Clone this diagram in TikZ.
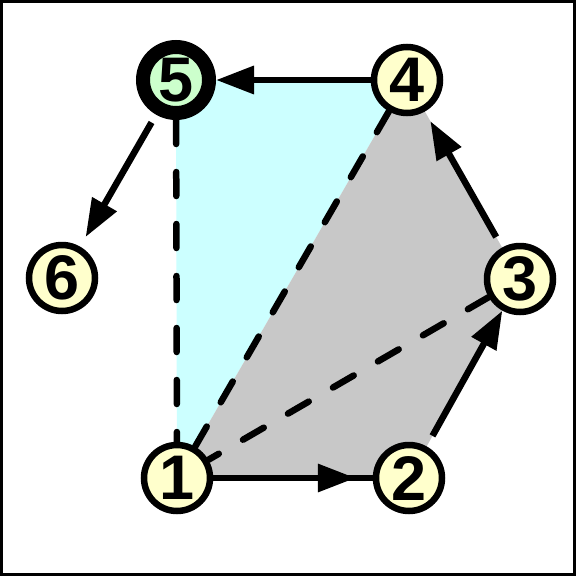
\documentclass[tikz,border=0pt]{standalone}
\usepackage{fontspec}
\setmainfont{Liberation Sans}
\usetikzlibrary{arrows.meta,backgrounds}
\definecolor{cyanfill}{HTML}{CCFFFF}
\definecolor{grayfill}{HTML}{C8C8C8}
\definecolor{nodeyellow}{HTML}{FFFFCC}
\definecolor{nodegreen}{HTML}{CCFFCC}
\tikzset{
  vert/.style={circle, draw=black, line width=6.5pt, fill=nodeyellow, minimum size=66pt, inner sep=0pt,
    font=\fontsize{63}{63}\selectfont\bfseries},
  vertroot/.style={vert, line width=14pt, fill=nodegreen},
  edge/.style={line width=6.5pt, draw=black},
  arr/.style={edge, -{Triangle[length=38pt,width=27pt]}},
  dashedge/.style={edge, line cap=round, dash pattern=on 24pt off 28pt},
}
\begin{document}
\begin{tikzpicture}[x=1pt,y=-1pt]
\useasboundingbox (0,0) rectangle (576,576);
% nodes
\node[vert] (n1) at (177,478) {1};
\node[vert] (n2) at (409,478) {2};
\node[vert] (n3) at (520,279) {3};
\node[vert] (n4) at (407,80) {4};
\node[vertroot] (n5) at (176,80) {5};
\node[vert] (n6) at (62,278) {6};
\begin{scope}[on background layer]
\fill[white] (0,0) rectangle (576,576);
\draw[line width=3pt] (1.5,1.5) rectangle (574.5,574.5);
% fills
\fill[cyanfill] (n5.center) -- (n4.center) -- (n1.center) -- cycle;
\fill[grayfill] (n1.center) -- (n4.center) -- (n3.center) -- (n2.center) -- cycle;
% dashed edges
\draw[dashedge] (n5) -- (n1);
\draw[dashedge] (n4) -- (n1);
\draw[dashedge] (n3) -- (n1);
% arrows
\draw[edge] (n1) -- (n2);
\draw[arr, shorten >=17pt] (n1) -- (n2);
\draw[arr, shorten <=12pt] (n2) -- (n3);
\draw[arr, shorten <=12pt, shorten >=11pt] (n3) -- (n4);
\draw[arr] (n4) -- (n5);
\draw[arr, shorten <=9pt, shorten >=11pt] (n5) -- (n6);
\end{scope}
\end{tikzpicture}
\end{document}
